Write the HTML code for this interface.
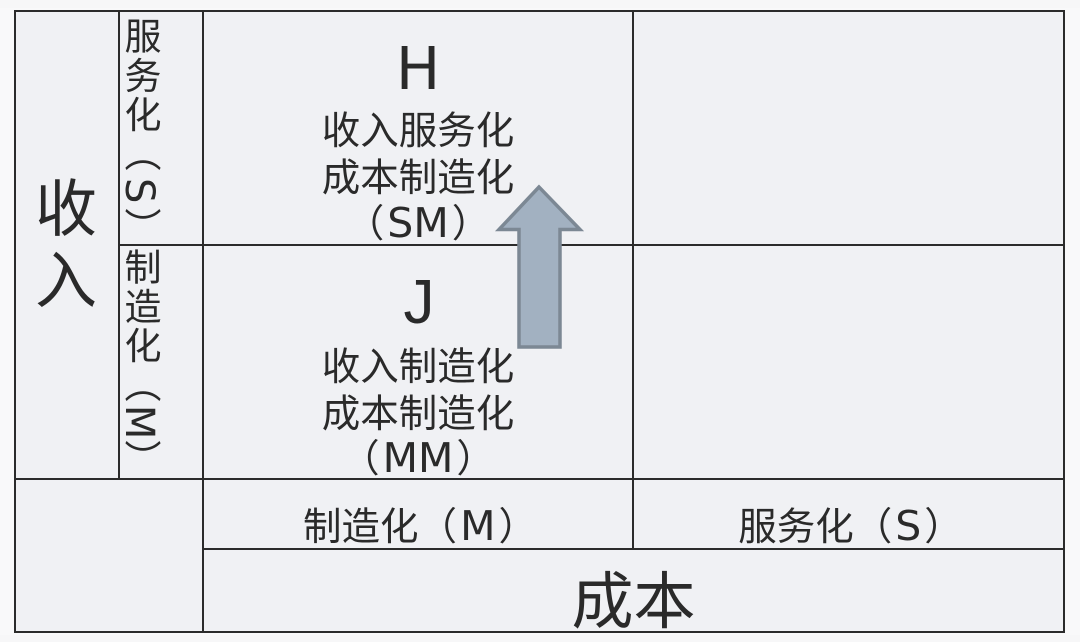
<!DOCTYPE html>
<html><head><meta charset="utf-8"><style>
html,body{margin:0;padding:0;width:1080px;height:642px;overflow:hidden;background:#f7f7f8}
#p{position:relative;width:1080px;height:642px;overflow:hidden;font-family:"DejaVu Sans","WenQuanYi Zen Hei","Noto Sans CJK SC",sans-serif;color:#2a2a2a}
.t{position:absolute;white-space:nowrap;line-height:1;text-align:center}
.v{writing-mode:vertical-rl;text-align:left}
.l{font-size:41px;margin:0 3px}
svg{position:absolute;left:0;top:0}
</style></head><body><div id="p">
<svg width="1080" height="642">
<rect x="0" y="8" width="1080" height="627" fill="#f9f9fa"/>
<rect x="15" y="11" width="1049" height="621" fill="#f0f1f4"/>
<g stroke="#2b2b2b" stroke-width="2" fill="none">
<rect x="15" y="11" width="1049" height="621"/>
<path d="M119 11V479M203 11V632M633 11V549M119 245H1064M15 479H1064M203 549H1064"/>
</g>
<polygon points="539,187 499,229.500 519,229.500 519,347 560,347 560,229.500 580,229.500" fill="#a2b1c1" stroke="#7c8894" stroke-width="3.500"/>
</svg>
<div class="t v" style="left:29px;top:176px;font-size:62px;letter-spacing:10px">收入</div>
<div class="t v" style="left:117px;top:17px;font-size:37px;line-height:43px;letter-spacing:2.200px">服务化（<span style="font-size:40px;letter-spacing:0;margin:4px 0">S</span>）</div>
<div class="t v" style="left:117px;top:248px;font-size:37px;line-height:43px;letter-spacing:2.200px">制造化（<span style="font-size:40px;letter-spacing:0">M</span>）</div>
<div class="t" style="left:203px;width:430px;top:39px;font-size:59px;">H</div>
<div class="t" style="left:203px;width:430px;top:113px;font-size:38.500px;">收入服务化</div>
<div class="t" style="left:203px;width:430px;top:160px;font-size:38.500px;">成本制造化</div>
<div class="t" style="left:203px;width:430px;top:203px;font-size:38.500px;">（<span class="l">SM</span>）</div>
<div class="t" style="left:204px;width:430px;top:272px;font-size:62px;font-family:'Liberation Sans',sans-serif">J</div>
<div class="t" style="left:203px;width:430px;top:349px;font-size:38.500px;">收入制造化</div>
<div class="t" style="left:203px;width:430px;top:396px;font-size:38.500px;">成本制造化</div>
<div class="t" style="left:203px;width:430px;top:438px;font-size:38.500px;">（<span class="l">MM</span>）</div>
<div class="t" style="left:205px;width:430px;top:506px;font-size:38.500px;">制造化（<span class="l">M</span>）</div>
<div class="t" style="left:635px;width:431px;top:506px;font-size:38.500px;">服务化（<span class="l">S</span>）</div>
<div class="t" style="left:203px;width:861px;top:571px;font-size:62px;">成本</div>
</div></body></html>
